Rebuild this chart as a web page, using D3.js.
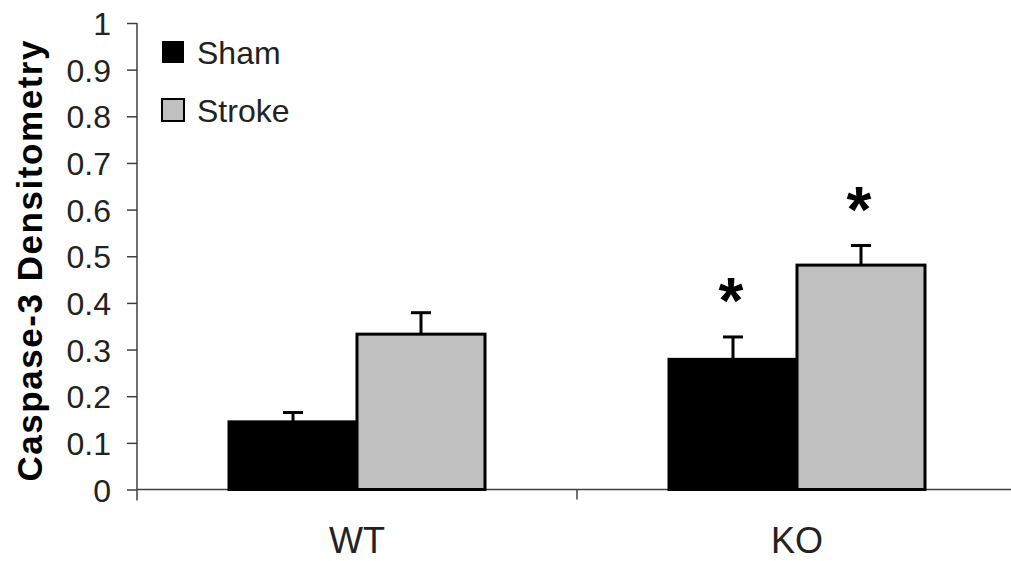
<!DOCTYPE html>
<html>
<head>
<meta charset="utf-8">
<script src="https://cdn.jsdelivr.net/npm/d3@7"></script>
<style>
  body { margin: 0; background: #fff; }
  text { font-family: "Liberation Sans", Arial, sans-serif; }
</style>
</head>
<body>
<div id="chart"></div>
<script>
const groups = ['WT', 'KO']
const series = ['Sham', 'Stroke']
const shamValues = [0.145, 0.279]
const strokeValues = [0.333, 0.481]
const shamErrors = [0.020, 0.048]
const strokeErrors = [0.046, 0.042]
const starred = [[false, false], [true, true]]
const yTicks = [0, 0.1, 0.2, 0.3, 0.4, 0.5, 0.6, 0.7, 0.8, 0.9, 1]

const w = 1011, h = 561
const colors = {Sham: '#000000', Stroke: '#c0c0c0'}

var svg = d3.select('#chart').append('svg')
  .attr('width', w)
  .attr('height', h)

var x = d3.scaleBand().domain(groups).range([137, 1017])
var xSub = d3.scaleBand().domain(series).range([0, 256])
var y = d3.scaleLinear().domain([0, 1]).range([489.5, 23])

// y axis
var yAxis = d3.axisLeft(y)
  .tickValues(yTicks)
  .tickFormat(d => d === 0 || d === 1 ? String(d) : d3.format('.1f')(d))
  .tickSize(10)
  .tickPadding(16)
var gy = svg.append('g')
  .attr('transform', 'translate(137,0)')
  .call(yAxis)
gy.select('.domain').remove()
gy.append('line')
  .attr('x1', 0).attr('x2', 0)
  .attr('y1', y(1)).attr('y2', y(0) + 11)
  .attr('stroke', '#404040').attr('stroke-width', 1.5)
gy.selectAll('.tick line').attr('stroke', '#404040').attr('stroke-width', 1.5)
gy.selectAll('.tick text')
  .attr('font-size', 32)
  .attr('fill', '#222')
  .attr('dy', '0.36em')

// x axis
svg.append('line')
  .attr('x1', 137).attr('x2', w)
  .attr('y1', y(0)).attr('y2', y(0))
  .attr('stroke', '#404040').attr('stroke-width', 1.5)
svg.selectAll('.xtick')
  .data(groups.slice(1))
  .join('line')
  .attr('class', 'xtick')
  .attr('x1', d => x(d)).attr('x2', d => x(d))
  .attr('y1', y(0)).attr('y2', y(0) + 10)
  .attr('stroke', '#404040').attr('stroke-width', 1.5)
svg.selectAll('.xlabel')
  .data(groups)
  .join('text')
  .attr('class', 'xlabel')
  .attr('x', d => x(d) + x.bandwidth() / 2)
  .attr('y', 553)
  .attr('text-anchor', 'middle')
  .attr('font-size', 36)
  .attr('fill', '#222')
  .text(d => d)

// bars
var rows = []
groups.forEach(function (g, i) {
  rows.push({group: g, s: 'Sham', v: shamValues[i], e: shamErrors[i], star: starred[i][0]})
  rows.push({group: g, s: 'Stroke', v: strokeValues[i], e: strokeErrors[i], star: starred[i][1]})
})
function bx(d) { return x(d.group) + x.bandwidth() / 2 - 128 + xSub(d.s) }
function cx(d) { return bx(d) + xSub.bandwidth() / 2 }

// error bars (upper only)
svg.selectAll('.err')
  .data(rows)
  .join('line')
  .attr('class', 'err')
  .attr('x1', cx).attr('x2', cx)
  .attr('y1', d => y(d.v)).attr('y2', d => y(d.v + d.e))
  .attr('stroke', '#000').attr('stroke-width', 3)
svg.selectAll('.cap')
  .data(rows)
  .join('line')
  .attr('class', 'cap')
  .attr('x1', d => cx(d) - 10).attr('x2', d => cx(d) + 10)
  .attr('y1', d => y(d.v + d.e)).attr('y2', d => y(d.v + d.e))
  .attr('stroke', '#000').attr('stroke-width', 3)

svg.selectAll('.bar')
  .data(rows)
  .join('rect')
  .attr('class', 'bar')
  .attr('x', bx)
  .attr('y', d => y(d.v))
  .attr('width', xSub.bandwidth())
  .attr('height', d => y(0) - y(d.v))
  .attr('fill', d => colors[d.s])
  .attr('stroke', '#000')
  .attr('stroke-width', 3)

// significance markers
svg.selectAll('.star')
  .data(rows.filter(d => d.star))
  .join('text')
  .attr('class', 'star')
  .attr('x', d => cx(d) - 2)
  .attr('y', d => y(d.v + d.e) - 14)
  .attr('text-anchor', 'middle')
  .attr('font-size', 64)
  .attr('font-weight', 'bold')
  .text('*')

// y title
svg.append('text')
  .attr('transform', 'translate(42,261) rotate(-90)')
  .attr('text-anchor', 'middle')
  .attr('font-size', 35)
  .attr('font-weight', 'bold')
  .attr('textLength', 441)
  .attr('lengthAdjust', 'spacing')
  .text('Caspase-3 Densitometry')

// legend
var legend = svg.selectAll('.legend')
  .data(series)
  .join('g')
  .attr('class', 'legend')
  .attr('transform', (d, i) => 'translate(162,' + (41 + i * 58) + ')')
legend.append('rect')
  .attr('width', 22).attr('height', 22)
  .attr('fill', d => colors[d])
  .attr('stroke', '#000')
  .attr('stroke-width', d => d === 'Sham' ? 0 : 2)
legend.append('text')
  .attr('x', 35)
  .attr('y', 23)
  .attr('font-size', 32)
  .attr('fill', '#222')
  .text(d => d)
</script>
</body>
</html>
